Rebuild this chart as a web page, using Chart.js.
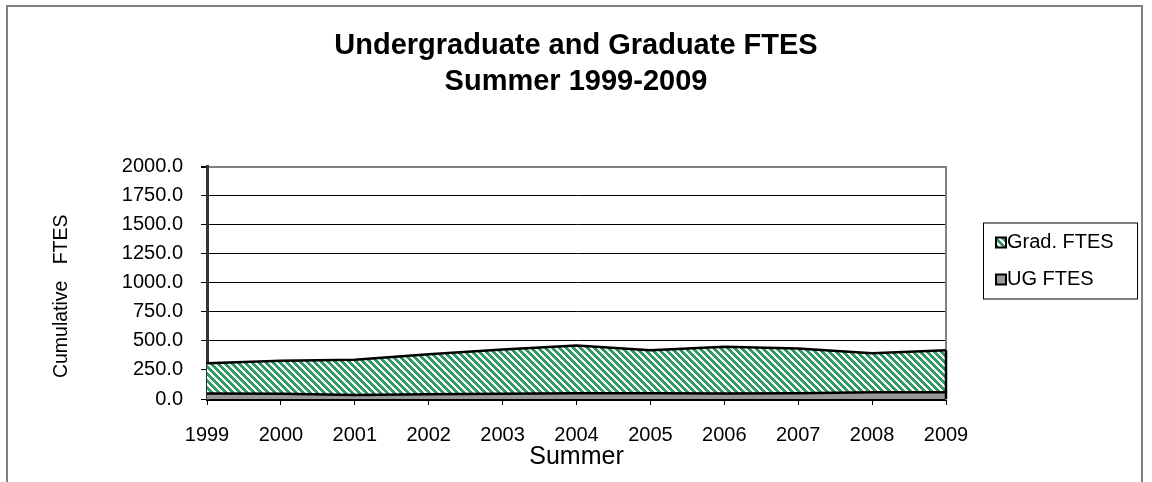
<!DOCTYPE html>
<html>
<head>
<meta charset="utf-8">
<script src="https://cdn.jsdelivr.net/npm/chart.js@4.4.1/dist/chart.umd.min.js"></script>
<style>
  html, body { margin: 0; padding: 0; background: #fff; }
  canvas { display: block; }
</style>
</head>
<body>
<canvas id="ftesChart" width="1152" height="482"></canvas>
<script>
// Summer FTES
const years = ['1999', '2000', '2001', '2002', '2003', '2004', '2005', '2006', '2007', '2008', '2009'];
const ugFtes = [48, 45, 35, 40, 45, 50, 50, 48, 50, 58, 58];
const gradFtes = [260, 285, 303, 345, 380, 410, 370, 402, 385, 335, 362];
const yTickValues = [0, 250, 500, 750, 1000, 1250, 1500, 1750, 2000];

const FONT = "'Liberation Sans', Arial, sans-serif";

// Excel style "wide downward diagonal" fill
function makeStripes() {
    const tile = document.createElement('canvas');
    tile.width = 7; tile.height = 7;
    const t = tile.getContext('2d');
    t.fillStyle = '#ffffff';
    t.fillRect(0, 0, 7, 7);
    t.fillStyle = '#339966';
    for (let y = 0; y < 7; y++) {
        for (let x = 0; x < 7; x++) {
            if (((x - y) % 7 + 7) % 7 < 4) t.fillRect(x, y, 1, 1);
        }
    }
    return document.getElementById('ftesChart').getContext('2d').createPattern(tile, 'repeat');
}
const stripes = makeStripes();

const extras = {
    id: 'extras',
    beforeDraw(chart) {
        const c = chart.ctx;
        c.save();
        c.strokeStyle = '#808080';
        c.lineWidth = 2;
        c.strokeRect(7, 6, 1135, 520);
        c.restore();
    },
    afterDatasetsDraw(chart) {
        // closing edge of the stacked area at the last year
        const meta = chart.getDatasetMeta(1);
        const last = meta.data[meta.data.length - 1];
        const base = chart.scales.y.getPixelForValue(0);
        const c = chart.ctx;
        c.save();
        c.strokeStyle = '#000';
        c.lineWidth = 2.5;
        c.beginPath();
        c.moveTo(last.x, last.y);
        c.lineTo(last.x, base);
        c.stroke();
        c.restore();
    },
    afterDraw(chart) {
        const c = chart.ctx;
        const area = chart.chartArea;
        const bx = area.right + 37, by = area.top + 56;
        c.save();
        c.fillStyle = '#fff';
        c.fillRect(bx, by, 154, 76);
        c.strokeStyle = '#000';
        c.lineWidth = 1;
        c.strokeRect(bx + 0.5, by + 0.5, 154, 76);
        const items = [chart.data.datasets[1], chart.data.datasets[0]];
        c.font = '20px ' + FONT;
        c.textBaseline = 'middle';
        items.forEach((ds, i) => {
            const cy = by + 20 + i * 37;
            c.fillStyle = ds.backgroundColor;
            c.fillRect(bx + 13, cy - 5, 10, 10);
            c.strokeStyle = '#000';
            c.lineWidth = 2;
            c.strokeRect(bx + 13, cy - 5, 10, 10);
            c.fillStyle = '#000';
            c.fillText(ds.label, bx + 24, cy);
        });
        c.restore();
    }
};

new Chart(document.getElementById('ftesChart'), {
    type: 'line',
    data: {
        labels: years,
        datasets: [{
            label: 'UG FTES',
            data: ugFtes,
            fill: 'origin',
            backgroundColor: '#999999',
            borderColor: '#000',
            borderWidth: 2.5,
            pointRadius: 0,
            tension: 0
        }, {
            label: 'Grad. FTES',
            data: gradFtes,
            fill: '-1',
            backgroundColor: stripes,
            borderColor: '#000',
            borderWidth: 2.5,
            pointRadius: 0,
            tension: 0
        }]
    },
    options: {
        responsive: false,
        animation: false,
        devicePixelRatio: 1,
        layout: { padding: 0 },
        plugins: {
            legend: { display: false },
            tooltip: { enabled: false },
            title: {
                display: true,
                text: ['Undergraduate and Graduate FTES', 'Summer 1999-2009'],
                color: '#000',
                font: { family: FONT, size: 29, weight: 'bold', lineHeight: 1.25 },
                padding: { top: 28, bottom: 66 }
            }
        },
        scales: {
            x: {
                offset: false,
                border: { color: '#000', width: 3 },
                grid: { drawOnChartArea: false, drawTicks: true, tickLength: 6, color: '#000' },
                ticks: { color: '#000', font: { family: FONT, size: 20 }, padding: 18, maxRotation: 0, autoSkip: false },
                title: { display: true, text: 'Summer', color: '#000', font: { family: FONT, size: 25 }, padding: { top: 0, bottom: 10 } },
                afterFit: s => { s.height = 83; }
            },
            y: {
                stacked: true,
                min: 0,
                max: 2000,
                afterBuildTicks: s => { s.ticks = yTickValues.map(v => ({ value: v })); },
                border: { color: '#333', width: 3 },
                grid: {
                    color: ctx => (ctx.tick && ctx.tick.value === 2000) ? '#808080' : '#000',
                    lineWidth: ctx => (ctx.tick && ctx.tick.value === 2000) ? 2 : 1,
                    tickColor: '#000',
                    tickLength: 6
                },
                ticks: { color: '#000', font: { family: FONT, size: 20 }, padding: 18, callback: v => v.toFixed(1) },
                title: { display: true, text: 'Cumulative   FTES     ', color: '#000', font: { family: FONT, size: 19.5 }, padding: { top: 50, bottom: 0 } },
                afterFit: s => { s.width = 207; }
            },
            yRight: {
                position: 'right',
                display: true,
                grid: { drawOnChartArea: false, drawTicks: false },
                border: { color: '#808080', width: 2 },
                ticks: { display: false },
                afterFit: s => { s.width = 206; }
            }
        }
    },
    plugins: [extras]
});
</script>
</body>
</html>
